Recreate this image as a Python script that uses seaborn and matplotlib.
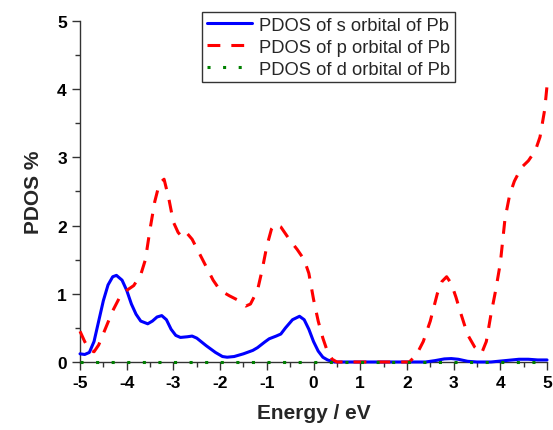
import matplotlib
matplotlib.use("Agg")
import matplotlib.pyplot as plt
import seaborn as sns
import numpy as np

# PDOS of Pb orbitals
s_energy = [-5.0, -4.9, -4.8, -4.7, -4.6, -4.5, -4.4, -4.3, -4.22, -4.1, -4.0, -3.9, -3.8, -3.7,
            -3.55, -3.45, -3.35, -3.25, -3.15, -3.05, -2.95, -2.85, -2.7, -2.6, -2.5, -2.3, -2.1,
            -1.95, -1.85, -1.7, -1.5, -1.3, -1.2, -1.05, -0.95, -0.8, -0.7, -0.6, -0.45, -0.3,
            -0.2, -0.1, 0.0, 0.1, 0.2, 0.3, 0.45, 1.0, 2.0, 2.4, 2.6, 2.8, 2.95, 3.1, 3.3, 3.5,
            3.8, 4.1, 4.4, 4.6, 4.8, 5.0]
s_pdos = [0.12, 0.11, 0.14, 0.30, 0.60, 0.90, 1.13, 1.25, 1.27, 1.20, 1.05, 0.85, 0.70, 0.60,
          0.56, 0.60, 0.66, 0.68, 0.62, 0.48, 0.39, 0.36, 0.37, 0.38, 0.35, 0.24, 0.14,
          0.08, 0.07, 0.08, 0.12, 0.17, 0.21, 0.29, 0.34, 0.38, 0.41, 0.50, 0.62, 0.67,
          0.62, 0.48, 0.30, 0.16, 0.07, 0.03, 0.0, 0.0, 0.0, 0.0, 0.02, 0.045, 0.05, 0.04, 0.01, 0.0,
          0.0, 0.02, 0.04, 0.04, 0.03, 0.03]

p_energy = [-5.0, -4.9, -4.8, -4.7, -4.6, -4.45, -4.3, -4.15, -4.0, -3.85, -3.7, -3.6, -3.5, -3.4,
            -3.3, -3.2, -3.1, -3.0, -2.9, -2.8, -2.7, -2.6, -2.45, -2.3, -2.15, -2.0, -1.8, -1.6,
            -1.45, -1.35, -1.2, -1.1, -1.0, -0.9, -0.82, -0.7, -0.6, -0.5, -0.35, -0.2, -0.1, 0.0,
            0.1, 0.2, 0.3, 0.4, 0.5, 1.0, 1.5, 2.05, 2.2, 2.35, 2.5, 2.65, 2.75, 2.85, 2.95, 3.05,
            3.15, 3.3, 3.45, 3.6, 3.7, 3.8, 3.9, 4.0, 4.1, 4.2, 4.3, 4.45, 4.6, 4.75, 4.85, 4.95, 5.0]
p_pdos = [0.45, 0.30, 0.18, 0.15, 0.25, 0.50, 0.75, 0.95, 1.05, 1.12, 1.28, 1.50, 1.95, 2.35,
          2.62, 2.68, 2.40, 2.05, 1.90, 1.82, 1.88, 1.80, 1.60, 1.40, 1.20, 1.05, 0.97, 0.90,
          0.82, 0.85, 1.05, 1.35, 1.70, 1.95, 2.02, 1.98, 1.88, 1.78, 1.65, 1.50, 1.30, 0.92,
          0.60, 0.35, 0.15, 0.04, 0.0, 0.0, 0.0, 0.0, 0.10, 0.30, 0.60, 1.00, 1.18, 1.25, 1.15, 0.95,
          0.72, 0.40, 0.22, 0.13, 0.30, 0.70, 1.05, 1.45, 2.10, 2.45, 2.65, 2.85, 2.95, 3.10, 3.30, 3.70, 4.05]

d_energy = [-5.0, -2.5, 0.0, 2.5, 5.0]
d_pdos = [0.0, 0.0, 0.0, 0.0, 0.0]

labels = ["PDOS of s orbital of Pb", "PDOS of p orbital of Pb", "PDOS of d orbital of Pb"]

sns.set_style("ticks")
plt.rcParams['font.family'] = ['Liberation Sans', 'DejaVu Sans']
plt.rcParams['axes.unicode_minus'] = False

fig = plt.figure(figsize=(5.53, 4.31), dpi=100)
ax = fig.add_axes([0.1447, 0.1578, 0.8445, 0.7912])

sns.lineplot(x=s_energy, y=s_pdos, ax=ax, color='#0000FF', lw=2.2, label=labels[0], estimator=None)
sns.lineplot(x=p_energy, y=p_pdos, ax=ax, color='#FF0000', lw=2.2, label=labels[1], estimator=None)
ax.lines[-1].set_dashes((4.2, 3.6))
sns.lineplot(x=d_energy, y=d_pdos, ax=ax, color='#008000', lw=2.2, label=labels[2], estimator=None)
ax.lines[-1].set_linestyle((0, (1, 4.1)))
for ln in ax.lines:
    ln.set_zorder(3)
    ln.set_clip_on(False)

ax.set_xlim(-5, 5)
ax.set_ylim(0, 5)
ax.set_xticks(np.arange(-5, 6, 1))
ax.set_yticks(np.arange(0, 6, 1))
ax.set_xticks(np.arange(-5, 5.01, 0.5), minor=True)
ax.set_yticks(np.arange(0, 5.01, 0.5), minor=True)
ax.tick_params(which='major', direction='out', length=6, width=1, labelsize=12.5, colors='#333333',
               labelcolor='black')
ax.tick_params(which='minor', direction='out', length=3.5, width=1, colors='#333333')
for lab in ax.get_xticklabels() + ax.get_yticklabels():
    lab.set_fontweight('bold')

sns.despine(ax=ax)
for sp in ['left', 'bottom']:
    ax.spines[sp].set_linewidth(1.0)
    ax.spines[sp].set_color('#333333')

ax.set_xlabel("Energy / eV", fontsize=15, fontweight='bold', labelpad=9)
ax.set_ylabel("PDOS %", fontsize=15, fontweight='bold', labelpad=10)

leg = ax.legend(loc='upper right', bbox_to_anchor=(0.822, 0.970), bbox_transform=fig.transFigure,
                borderaxespad=0, frameon=True, fancybox=False, fontsize=13.2, handlelength=2.5,
                borderpad=0.25, labelspacing=0.28, handletextpad=0.35)
leg.get_frame().set_edgecolor('black')
leg.get_frame().set_linewidth(1.0)

fig.savefig("out.png", dpi=100)
